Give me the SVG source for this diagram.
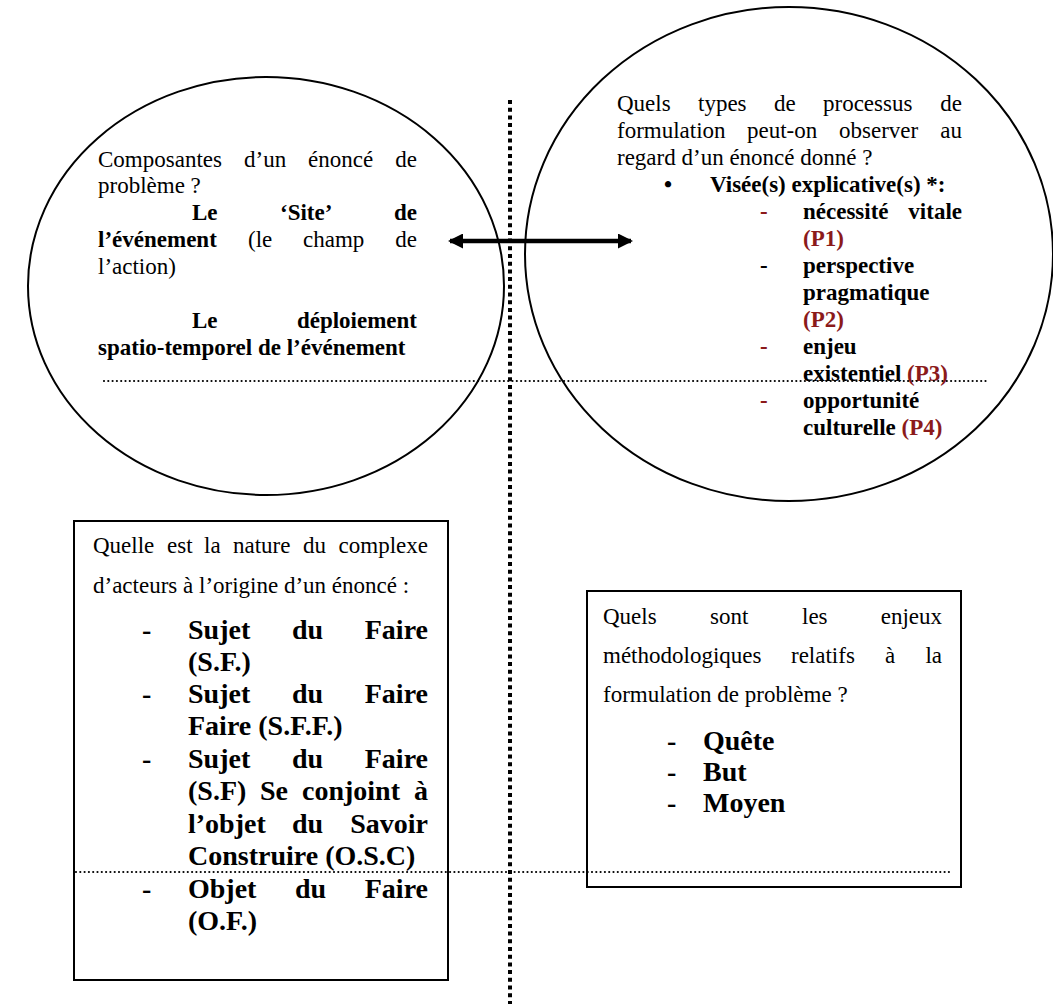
<svg xmlns="http://www.w3.org/2000/svg" width="1053" height="1004" viewBox="0 0 1053 1004">
<style>
text{font-family:"Liberation Serif","Times New Roman",serif;fill:#000}
.r{font-size:23px}
.b{font-size:23px;font-weight:bold}
.bb{font-size:28px;font-weight:bold}
.red{fill:#8b1a1a}
.shape{fill:none;stroke:#000;stroke-width:2}
.box{fill:#fff;stroke:#000;stroke-width:2}
.vdot{stroke:#000;stroke-width:4;stroke-dasharray:4 3.7;fill:none}
.hdot{stroke:#000;stroke-width:2.2;stroke-dasharray:0 4.3;stroke-linecap:round;fill:none}
</style>
<defs>
<marker id="ah" viewBox="0 0 15 15" refX="13" refY="7.5" markerWidth="15" markerHeight="15" markerUnits="userSpaceOnUse" orient="auto-start-reverse">
<path d="M0,0 L15,7.5 L0,15 z" fill="#000"/>
</marker>
</defs>
<rect width="1053" height="1004" fill="#fff"/>

<g id="node-composantes">
<ellipse class="shape" cx="266" cy="286" rx="238" ry="209"/>
<text class="r" y="167"><tspan x="98">Composantes</tspan><tspan x="244">d’un</tspan><tspan x="308">énoncé</tspan><tspan x="417" text-anchor="end">de</tspan></text>
<text class="r" x="98" y="193">problème ?</text>
<text class="b" y="220"><tspan x="192">Le</tspan><tspan x="280">‘Site’</tspan><tspan x="417" text-anchor="end">de</tspan></text>
<text y="247"><tspan class="b" x="98">l’événement</tspan><tspan class="r" x="248">(le</tspan><tspan class="r" x="303">champ</tspan><tspan class="r" x="417" text-anchor="end">de</tspan></text>
<text class="r" x="98" y="274">l’action)</text>
<text class="b" y="328"><tspan x="192">Le</tspan><tspan x="417" text-anchor="end">déploiement</tspan></text>
<text class="b" x="98" y="355">spatio-temporel de l’événement</text>
</g>

<g id="node-processus">
<ellipse class="shape" cx="789" cy="254" rx="264" ry="247"/>
<text class="r" y="111"><tspan x="617">Quels</tspan><tspan x="698">types</tspan><tspan x="774">de</tspan><tspan x="823">processus</tspan><tspan x="962" text-anchor="end">de</tspan></text>
<text class="r" y="138"><tspan x="617">formulation</tspan><tspan x="747">peut-on</tspan><tspan x="839">observer</tspan><tspan x="962" text-anchor="end">au</tspan></text>
<text class="r" x="617" y="165">regard d’un énoncé donné ?</text>
<text class="b" x="664" y="192">•</text>
<text class="b" x="710" y="192">Visée(s) explicative(s) *:</text>
<text class="b red" x="760" y="219">-</text>
<text class="b" y="219"><tspan x="803">nécessité</tspan><tspan x="962" text-anchor="end">vitale</tspan></text>
<text class="b red" x="803" y="246">(P1)</text>
<text class="b" x="760" y="273">-</text>
<text class="b" x="803" y="273">perspective</text>
<text class="b" x="803" y="300">pragmatique</text>
<text class="b red" x="803" y="327">(P2)</text>
<text class="b red" x="760" y="354">-</text>
<text class="b" x="803" y="354">enjeu</text>
<text class="b" x="803" y="381">existentiel <tspan class="red">(P3)</tspan></text>
<text class="b red" x="760" y="408">-</text>
<text class="b" x="803" y="408">opportunité</text>
<text class="b" x="803" y="435">culturelle <tspan class="red">(P4)</tspan></text>
</g>

<g id="node-acteurs">
<rect class="box" x="74" y="521" width="374" height="459"/>
<text class="r" y="553"><tspan x="93">Quelle</tspan><tspan x="167">est</tspan><tspan x="204">la</tspan><tspan x="233">nature</tspan><tspan x="303">du</tspan><tspan x="428" text-anchor="end">complexe</tspan></text>
<text class="r" x="93" y="593">d’acteurs à l’origine d’un énoncé :</text>
<text class="bb" x="142" y="639">-</text>
<text class="bb" y="639"><tspan x="188">Sujet</tspan><tspan x="292">du</tspan><tspan x="428" text-anchor="end">Faire</tspan></text>
<text class="bb" x="188" y="671">(S.F.)</text>
<text class="bb" x="142" y="703">-</text>
<text class="bb" y="703"><tspan x="188">Sujet</tspan><tspan x="292">du</tspan><tspan x="428" text-anchor="end">Faire</tspan></text>
<text class="bb" x="188" y="735">Faire (S.F.F.)</text>
<text class="bb" x="142" y="768">-</text>
<text class="bb" y="768"><tspan x="188">Sujet</tspan><tspan x="292">du</tspan><tspan x="428" text-anchor="end">Faire</tspan></text>
<text class="bb" y="800"><tspan x="188">(S.F)</tspan><tspan x="260">Se</tspan><tspan x="302">conjoint</tspan><tspan x="428" text-anchor="end">à</tspan></text>
<text class="bb" y="833"><tspan x="188">l’objet</tspan><tspan x="292">du</tspan><tspan x="428" text-anchor="end">Savoir</tspan></text>
<text class="bb" x="188" y="865">Construire (O.S.C)</text>
<text class="bb" x="142" y="898">-</text>
<text class="bb" y="898"><tspan x="188">Objet</tspan><tspan x="295">du</tspan><tspan x="428" text-anchor="end">Faire</tspan></text>
<text class="bb" x="188" y="930">(O.F.)</text>
</g>

<g id="node-enjeux">
<rect class="box" x="587" y="591" width="374" height="296"/>
<text class="r" y="624"><tspan x="603">Quels</tspan><tspan x="710">sont</tspan><tspan x="802">les</tspan><tspan x="942" text-anchor="end">enjeux</tspan></text>
<text class="r" y="663"><tspan x="603">méthodologiques</tspan><tspan x="791">relatifs</tspan><tspan x="885">à</tspan><tspan x="942" text-anchor="end">la</tspan></text>
<text class="r" x="603" y="702">formulation de problème ?</text>
<text class="bb" x="667" y="750">-</text>
<text class="bb" x="703" y="750">Quête</text>
<text class="bb" x="667" y="781">-</text>
<text class="bb" x="703" y="781">But</text>
<text class="bb" x="667" y="812">-</text>
<text class="bb" x="703" y="812">Moyen</text>
</g>

<g id="connectors">
<line class="vdot" x1="510" y1="100" x2="510" y2="1004"/>
<line class="hdot" x1="104" y1="381" x2="989" y2="381"/>
<line class="hdot" x1="76" y1="872" x2="953" y2="872"/>
<line x1="450" y1="241" x2="631" y2="241" stroke="#000" stroke-width="4.5" marker-start="url(#ah)" marker-end="url(#ah)"/>
</g>
</svg>
